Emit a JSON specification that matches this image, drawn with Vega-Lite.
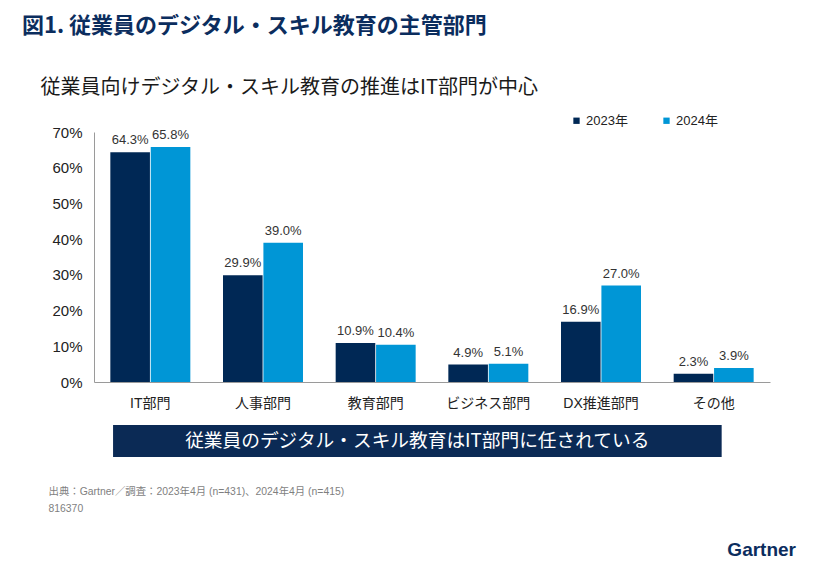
{
  "$schema": "https://vega.github.io/schema/vega-lite/v6.json",
  "width": 676,
  "height": 250,
  "autosize": {"type": "none"},
  "padding": {"left": 94, "top": 132, "right": 43, "bottom": 188},
  "background": "white",
  "config": {
    "view": {"stroke": null},
    "font": "Liberation Sans, Noto Sans CJK JP",
    "axisY": {
      "titleAngle": 0, "titleX": -54, "titleY": -45, "titleAlign": "left", "titleBaseline": "middle", "titleAnchor": "start",
      "titleFontSize": 20, "titleFontWeight": "normal", "titleColor": "#1a1a1a", "titleFont": "Noto Sans CJK JP",
      "format": ".0%", "labelOverlap": false,
      "grid": false, "ticks": false, "tickSize": 0, "domainColor": "#9a9a9a",
      "labelFontSize": 15, "labelColor": "#222222", "labelPadding": 12
    }
  },
  "title": {
    "text": "図1. 従業員のデジタル・スキル教育の主管部門",
    "anchor": "start",
    "frame": "group",
    "orient": "top",
    "dx": -72,
    "offset": 39,
    "font": "Noto Sans CJK JP",
    "fontSize": 22,
    "fontWeight": "bold",
    "color": "#0b2d5e"
  },
  "datasets": {
    "bars": [
      {"dept": "IT部門", "year": "2023年", "value": 0.643},
      {"dept": "IT部門", "year": "2024年", "value": 0.658},
      {"dept": "人事部門", "year": "2023年", "value": 0.299},
      {"dept": "人事部門", "year": "2024年", "value": 0.390},
      {"dept": "教育部門", "year": "2023年", "value": 0.109},
      {"dept": "教育部門", "year": "2024年", "value": 0.104},
      {"dept": "ビジネス部門", "year": "2023年", "value": 0.049},
      {"dept": "ビジネス部門", "year": "2024年", "value": 0.051},
      {"dept": "DX推進部門", "year": "2023年", "value": 0.169},
      {"dept": "DX推進部門", "year": "2024年", "value": 0.270},
      {"dept": "その他", "year": "2023年", "value": 0.023},
      {"dept": "その他", "year": "2024年", "value": 0.039}
    ],
    "banner": [{"text": "従業員のデジタル・スキル教育はIT部門に任されている"}],
    "logo": [{"text": "Gartner"}]
  },
  "layer": [
    {
      "data": {"name": "bars"},
      "mark": {"type": "bar"},
      "encoding": {
        "x": {
          "field": "dept", "type": "nominal",
          "scale": {"domain": ["IT部門", "人事部門", "教育部門", "ビジネス部門", "DX推進部門", "その他"], "paddingInner": 0.29, "paddingOuter": 0.145},
          "axis": {
            "title": ["出典：Gartner／調査：2023年4月 (n=431)、2024年4月 (n=415)", "816370"],
            "titleX": -46, "titleY": 104, "titleAlign": "left", "titleBaseline": "top", "titleAnchor": "start",
            "titleLineHeight": 17, "titleFontSize": 10.4, "titleFontWeight": "normal", "titleColor": "#7f7f7f",
            "titleFont": "Liberation Sans, Noto Sans CJK JP",
            "domainColor": "#9a9a9a", "ticks": false, "tickSize": 0, "labelPadding": 14, "labelAngle": 0,
            "labelFontSize": 14, "labelColor": "#222222", "labelFont": "Liberation Sans, Noto Sans CJK JP"
          }
        },
        "xOffset": {"field": "year", "type": "nominal", "scale": {"paddingInner": 0.02}},
        "y": {
          "field": "value", "type": "quantitative", "stack": null,
          "scale": {"domain": [0, 0.7], "nice": false},
          "axis": {"title": "従業員向けデジタル・スキル教育の推進はIT部門が中心", "values": [0, 0.1, 0.2, 0.3, 0.4, 0.5, 0.6, 0.7], "format": ".0%", "labelOverlap": false}
        },
        "color": {
          "field": "year", "type": "nominal",
          "scale": {"domain": ["2023年", "2024年"], "range": ["#002855", "#0096d6"]},
          "legend": {
            "title": null, "orient": "none", "legendX": 476, "legendY": -18, "direction": "horizontal",
            "symbolType": "square", "symbolSize": 40, "symbolStrokeWidth": 0, "labelFontSize": 13, "labelColor": "#222222",
            "columnPadding": 32, "labelOffset": 3
          }
        }
      }
    },
    {
      "data": {"name": "bars"},
      "mark": {"type": "text", "baseline": "bottom", "dy": -5, "fontSize": 13, "color": "#333333"},
      "encoding": {
        "x": {"field": "dept", "type": "nominal"},
        "xOffset": {"field": "year", "type": "nominal"},
        "y": {"field": "value", "type": "quantitative", "stack": null,
          "axis": {"title": "従業員向けデジタル・スキル教育の推進はIT部門が中心", "values": [0, 0.1, 0.2, 0.3, 0.4, 0.5, 0.6, 0.7], "format": ".0%", "labelOverlap": false}},
        "text": {"field": "value", "type": "quantitative", "format": ".1%"}
      }
    },
    {
      "data": {"name": "banner"},
      "mark": {"type": "rect", "color": "#0b2a55"},
      "encoding": {
        "x": {"datum": "IT部門", "type": "nominal", "bandPosition": 0.034},
        "x2": {"datum": "その他", "bandPosition": 0.6},
        "y": {"datum": -0.1204, "type": "quantitative",
          "axis": {"title": "従業員向けデジタル・スキル教育の推進はIT部門が中心", "values": [0, 0.1, 0.2, 0.3, 0.4, 0.5, 0.6, 0.7], "format": ".0%", "labelOverlap": false}},
        "y2": {"datum": -0.21}
      }
    },
    {
      "data": {"name": "banner"},
      "mark": {"type": "text", "color": "white", "fontSize": 18.7, "font": "Noto Sans CJK JP", "baseline": "middle", "align": "center"},
      "encoding": {
        "x": {"datum": "教育部門", "type": "nominal", "bandPosition": 1.02},
        "y": {"datum": -0.1652, "type": "quantitative",
          "axis": {"title": "従業員向けデジタル・スキル教育の推進はIT部門が中心", "values": [0, 0.1, 0.2, 0.3, 0.4, 0.5, 0.6, 0.7], "format": ".0%", "labelOverlap": false}},
        "text": {"field": "text"}
      }
    },
    {
      "data": {"name": "logo"},
      "mark": {"type": "text", "color": "#0b2d5e", "fontSize": 19, "fontWeight": "bold", "font": "Liberation Sans", "baseline": "middle", "align": "center"},
      "encoding": {
        "x": {"datum": "その他", "type": "nominal", "bandPosition": 1.1},
        "y": {"datum": -0.4704, "type": "quantitative",
          "axis": {"title": "従業員向けデジタル・スキル教育の推進はIT部門が中心", "values": [0, 0.1, 0.2, 0.3, 0.4, 0.5, 0.6, 0.7], "format": ".0%", "labelOverlap": false}},
        "text": {"field": "text"}
      }
    }
  ]
}
